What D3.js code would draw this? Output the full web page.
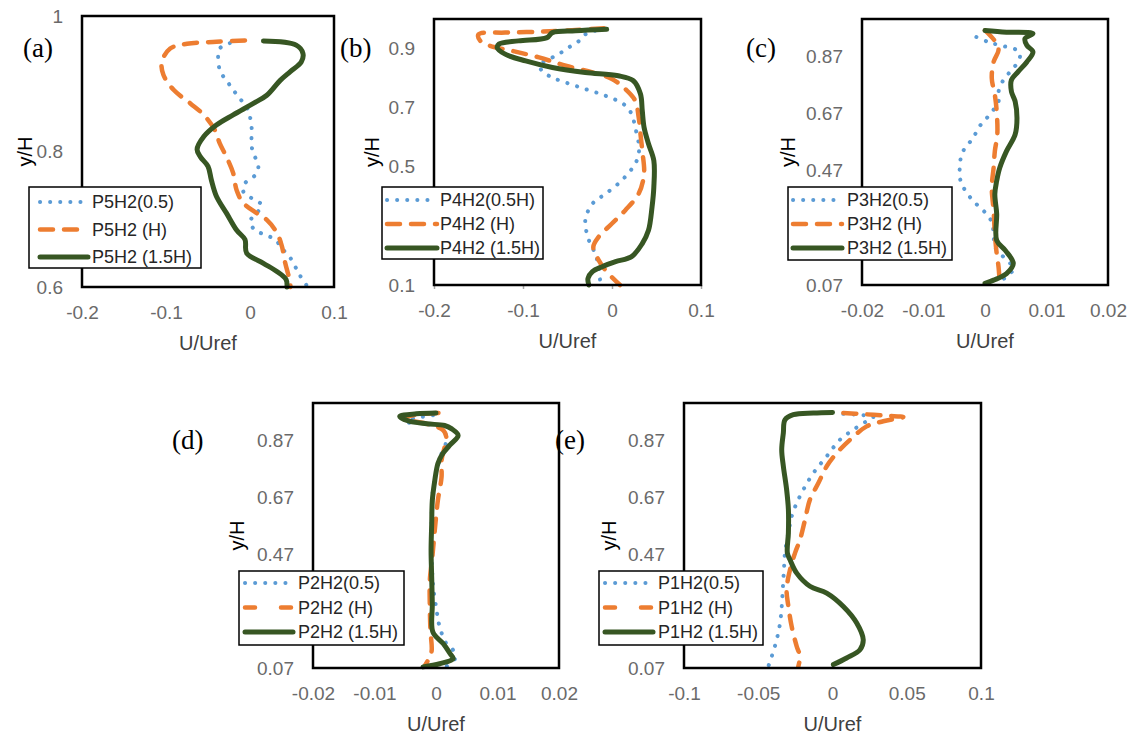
<!DOCTYPE html>
<html>
<head>
<meta charset="utf-8">
<script src="https://cdn.jsdelivr.net/npm/d3@7"></script>
<style>
  body { margin: 0; background: #fff; }
  svg { display: block; }
</style>
</head>
<body>
<svg id="mainsvg" width="1131" height="735"></svg>
<script>
// ---- data: [U/Uref, y/H] ----
const p5Dot = [[-0.024,0.960],[-0.036,0.952],[-0.036,0.920],[-0.028,0.905],[-0.020,0.891],[-0.012,0.878],[-0.004,0.866],[0.000,0.851],[0.002,0.834],[0.002,0.807],[0.006,0.792],[0.010,0.778],[0.006,0.765],[-0.006,0.753],[-0.008,0.741],[0.002,0.731],[0.014,0.721],[0.008,0.709],[0.000,0.697],[0.006,0.684],[0.018,0.677],[0.030,0.670],[0.038,0.657],[0.048,0.643],[0.059,0.618],[0.067,0.603]];
const p5Dash = [[-0.006,0.964],[-0.040,0.962],[-0.075,0.959],[-0.095,0.952],[-0.105,0.932],[-0.103,0.913],[-0.091,0.891],[-0.071,0.871],[-0.055,0.854],[-0.042,0.832],[-0.036,0.812],[-0.028,0.792],[-0.020,0.768],[-0.016,0.743],[-0.008,0.724],[0.008,0.709],[0.020,0.699],[0.032,0.680],[0.038,0.660],[0.042,0.635],[0.048,0.606],[0.048,0.600]];
const p5Solid = [[0.016,0.963],[0.055,0.957],[0.063,0.945],[0.061,0.932],[0.048,0.918],[0.036,0.905],[0.020,0.883],[0.004,0.871],[-0.020,0.854],[-0.040,0.839],[-0.055,0.822],[-0.063,0.803],[-0.059,0.792],[-0.050,0.778],[-0.046,0.758],[-0.040,0.734],[-0.028,0.709],[-0.016,0.684],[-0.006,0.670],[-0.004,0.650],[0.016,0.635],[0.032,0.623],[0.043,0.611],[0.044,0.600]];

const p4Dot = [[-0.019,0.960],[-0.030,0.948],[-0.037,0.926],[-0.049,0.903],[-0.060,0.881],[-0.071,0.864],[-0.081,0.847],[-0.079,0.825],[-0.067,0.802],[-0.052,0.785],[-0.030,0.763],[-0.007,0.740],[0.013,0.712],[0.022,0.679],[0.026,0.634],[0.030,0.578],[0.030,0.544],[0.026,0.510],[0.011,0.454],[-0.007,0.409],[-0.022,0.375],[-0.030,0.319],[-0.026,0.252],[-0.019,0.207],[-0.015,0.162],[-0.013,0.100]];
const p4Dash = [[-0.009,0.969],[-0.045,0.962],[-0.082,0.957],[-0.120,0.954],[-0.150,0.948],[-0.148,0.926],[-0.137,0.909],[-0.112,0.892],[-0.082,0.870],[-0.052,0.842],[-0.022,0.819],[0.000,0.797],[0.015,0.763],[0.026,0.724],[0.030,0.667],[0.032,0.611],[0.034,0.555],[0.036,0.476],[0.030,0.409],[0.015,0.353],[0.000,0.308],[-0.015,0.263],[-0.021,0.229],[-0.015,0.184],[-0.006,0.145],[0.009,0.100]];
const p4Solid = [[-0.006,0.965],[-0.041,0.960],[-0.067,0.954],[-0.073,0.937],[-0.105,0.926],[-0.127,0.915],[-0.129,0.903],[-0.120,0.881],[-0.097,0.858],[-0.067,0.836],[-0.030,0.819],[0.007,0.808],[0.024,0.791],[0.032,0.746],[0.034,0.690],[0.036,0.634],[0.041,0.578],[0.047,0.521],[0.047,0.431],[0.045,0.364],[0.041,0.285],[0.034,0.240],[0.022,0.196],[0.004,0.179],[-0.011,0.162],[-0.022,0.145],[-0.027,0.122],[-0.026,0.100]];

const p3Dot = [[-0.0014,0.937],[0.0005,0.920],[0.0024,0.908],[0.0052,0.891],[0.0057,0.873],[0.0052,0.845],[0.0041,0.816],[0.0030,0.787],[0.0022,0.746],[0.0022,0.712],[0.0003,0.654],[-0.0011,0.619],[-0.0019,0.584],[-0.0030,0.556],[-0.0038,0.527],[-0.0041,0.480],[-0.0041,0.446],[-0.0035,0.411],[-0.0024,0.376],[-0.0014,0.353],[0.0000,0.324],[0.0011,0.290],[0.0014,0.249],[0.0016,0.203],[0.0030,0.168],[0.0046,0.128],[0.0035,0.099],[0.0019,0.076]];
const p3Dash = [[0.0000,0.960],[0.0008,0.943],[0.0019,0.914],[0.0022,0.891],[0.0014,0.850],[0.0011,0.793],[0.0016,0.735],[0.0019,0.677],[0.0020,0.596],[0.0016,0.538],[0.0014,0.480],[0.0011,0.411],[0.0014,0.330],[0.0016,0.249],[0.0019,0.180],[0.0022,0.134],[0.0024,0.076]];
const p3Solid = [[0.0000,0.960],[0.0035,0.954],[0.0078,0.949],[0.0065,0.931],[0.0068,0.908],[0.0078,0.885],[0.0068,0.850],[0.0054,0.816],[0.0043,0.787],[0.0043,0.746],[0.0049,0.712],[0.0052,0.654],[0.0049,0.596],[0.0035,0.538],[0.0024,0.480],[0.0019,0.434],[0.0016,0.388],[0.0019,0.319],[0.0019,0.226],[0.0033,0.191],[0.0046,0.145],[0.0035,0.110],[0.0014,0.087],[0.0000,0.076]];

const p2Dot = [[-0.0005,0.957],[-0.0037,0.945],[-0.0048,0.933],[-0.0015,0.927],[0.0012,0.904],[0.0017,0.869],[0.0009,0.822],[0.0001,0.764],[-0.0005,0.693],[-0.0007,0.600],[-0.0007,0.483],[-0.0005,0.366],[0.0001,0.272],[0.0006,0.214],[0.0017,0.155],[0.0028,0.132],[0.0031,0.103],[0.0017,0.076]];
const p2Dash = [[0.0004,0.965],[-0.0037,0.957],[-0.0053,0.945],[-0.0015,0.927],[0.0012,0.904],[0.0017,0.875],[0.0014,0.845],[0.0009,0.799],[0.0009,0.740],[0.0003,0.658],[-0.0002,0.553],[-0.0006,0.459],[-0.0010,0.378],[-0.0010,0.284],[-0.0009,0.202],[-0.0007,0.132],[-0.0010,0.109],[-0.0018,0.079]];
const p2Solid = [[0.0000,0.965],[-0.0032,0.962],[-0.0059,0.953],[-0.0045,0.937],[-0.0015,0.927],[0.0014,0.921],[0.0025,0.910],[0.0036,0.886],[0.0022,0.851],[0.0009,0.816],[0.0003,0.787],[-0.0002,0.728],[-0.0006,0.658],[-0.0007,0.576],[-0.0008,0.483],[-0.0007,0.389],[-0.0006,0.296],[-0.0005,0.196],[0.0012,0.155],[0.0023,0.120],[0.0028,0.103],[0.0006,0.085],[-0.0021,0.074]];

const p1Dot = [[0.0073,0.962],[0.0163,0.959],[0.0275,0.951],[0.0230,0.936],[0.0140,0.906],[0.0050,0.871],[-0.0039,0.813],[-0.0129,0.754],[-0.0196,0.696],[-0.0241,0.649],[-0.0275,0.602],[-0.0297,0.544],[-0.0320,0.474],[-0.0327,0.415],[-0.0335,0.345],[-0.0342,0.286],[-0.0353,0.228],[-0.0376,0.169],[-0.0409,0.111],[-0.0432,0.076]];
const p1Dash = [[0.0073,0.965],[0.0208,0.961],[0.0365,0.955],[0.0477,0.951],[0.0342,0.936],[0.0230,0.918],[0.0118,0.871],[0.0028,0.824],[-0.0039,0.778],[-0.0095,0.719],[-0.0152,0.661],[-0.0185,0.590],[-0.0219,0.520],[-0.0252,0.474],[-0.0286,0.415],[-0.0309,0.345],[-0.0297,0.286],[-0.0275,0.216],[-0.0241,0.146],[-0.0219,0.111],[-0.0230,0.076]];
const p1Solid = [[0.0000,0.967],[-0.0129,0.965],[-0.0264,0.959],[-0.0320,0.941],[-0.0331,0.895],[-0.0342,0.836],[-0.0331,0.778],[-0.0309,0.696],[-0.0297,0.626],[-0.0297,0.544],[-0.0304,0.474],[-0.0286,0.450],[-0.0241,0.403],[-0.0152,0.357],[-0.0039,0.333],[0.0073,0.286],[0.0163,0.228],[0.0207,0.169],[0.0185,0.134],[0.0095,0.105],[0.0006,0.082]];

// legend labels
const namesA = ['P5H2(0.5)', 'P5H2 (H)', 'P5H2 (1.5H)'];
const namesB = ['P4H2(0.5H)', 'P4H2 (H)', 'P4H2 (1.5H)'];
const namesC = ['P3H2(0.5)', 'P3H2 (H)', 'P3H2 (1.5H)'];
const namesD = ['P2H2(0.5)', 'P2H2 (H)', 'P2H2 (1.5H)'];
const namesE = ['P1H2(0.5)', 'P1H2 (H)', 'P1H2 (1.5H)'];

// tick labels
const xTicksWide = [-0.2, -0.1, 0, 0.1];
const xTicksSmall = [-0.02, -0.01, 0, 0.01, 0.02];
const xTicksE = [-0.1, -0.05, 0, 0.05, 0.1];
const yTicksA = [0.6, 0.8, 1];
const yTicksB = [0.1, 0.3, 0.5, 0.7, 0.9];
const yTicksC = [0.07, 0.27, 0.47, 0.67, 0.87];

// ---- layout ----
const svg = d3.select('#mainsvg');
const sans = 'Liberation Sans, Arial, sans-serif';
const styles = [
  { color: '#5b9bd5', width: 4, dash: '0.1 10', cap: 'round' },
  { color: '#ed7d31', width: 4.5, dash: '13 11', cap: 'round' },
  { color: '#375623', width: 5, dash: null, cap: 'round' }
];

const panels = [
  { tag: '(a)', tagAt: [23, 57], series: [p5Dot, p5Dash, p5Solid], names: namesA,
    xDomain: [-0.2, 0.1], yDomain: [0.6, 1], xTicks: xTicksWide, yTicks: yTicksA,
    box: [82, 16, 334, 287], yTitleX: 25,
    legend: { x: 29, y: 187, w: 172, h: 81, row0: 15, step: 27.5, s0: 11, s1: 59, tx: 63 } },
  { tag: '(b)', tagAt: [340, 57], series: [p4Dot, p4Dash, p4Solid], names: namesB,
    xDomain: [-0.2, 0.1], yDomain: [0.1, 1.0], xTicks: xTicksWide, yTicks: yTicksB,
    box: [434, 19, 701, 285], yTitleX: 372, tickMarks: true,
    legend: { x: 382, y: 187, w: 161, h: 72, row0: 13, step: 24, s0: 5, s1: 55, tx: 58 } },
  { tag: '(c)', tagAt: [746, 57], series: [p3Dot, p3Dash, p3Solid], names: namesC,
    xDomain: [-0.02, 0.02], yDomain: [0.07, 1.0], xTicks: xTicksSmall, yTicks: yTicksC,
    box: [862, 19, 1108, 285], yTitleX: 788,
    legend: { x: 788, y: 187, w: 164, h: 73, row0: 13, step: 24, s0: 5, s1: 54, tx: 59 } },
  { tag: '(d)', tagAt: [172, 449], series: [p2Dot, p2Dash, p2Solid], names: namesD,
    xDomain: [-0.02, 0.02], yDomain: [0.07, 1.0], xTicks: xTicksSmall, yTicks: yTicksC,
    box: [313, 403, 559, 668], yTitleX: 237, legendDash: '10 26',
    legend: { x: 239, y: 571, w: 165, h: 74, row0: 12, step: 24.5, s0: 6, s1: 54, tx: 59 } },
  { tag: '(e)', tagAt: [555, 449], series: [p1Dot, p1Dash, p1Solid], names: namesE,
    xDomain: [-0.1, 0.1], yDomain: [0.07, 1.0], xTicks: xTicksE, yTicks: yTicksC,
    box: [684, 403, 981, 668], yTitleX: 609, legendDash: '10 26',
    legend: { x: 599, y: 571, w: 164, h: 74, row0: 12, step: 24.5, s0: 6, s1: 54, tx: 59 } }
];

panels.forEach(p => {
  const [l, t, r, b] = p.box;
  const L = p.legend;
  const x = d3.scaleLinear().domain(p.xDomain).range([l, r]);
  const y = d3.scaleLinear().domain(p.yDomain).range([b, t]);
  const g = svg.append('g');

  // y labels sitting under the legend box are hidden in the original
  const yShown = p.yTicks.filter(v => !(L.x < l && y(v) > L.y - 4 && y(v) < L.y + L.h + 4));

  // axes (labels only, frame drawn separately)
  const tk = p.tickMarks ? 4 : 0;
  const xAxis = d3.axisBottom(x).tickValues(p.xTicks).tickSize(tk)
    .tickPadding(18.5 - tk).tickFormat(d => String(d));
  const yAxis = d3.axisLeft(y).tickValues(yShown).tickSize(0)
    .tickPadding(19).tickFormat(d => String(d));

  const gx = g.append('g').attr('transform', `translate(0,${b})`).call(xAxis);
  const gy = g.append('g').attr('transform', `translate(${l},0)`).call(yAxis);
  [gx, gy].forEach(ax => {
    ax.select('.domain').remove();
    ax.attr('font-family', sans).attr('font-size', 19);
    ax.selectAll('text').attr('fill', '#6a6a6a');
    ax.selectAll('line').attr('stroke', '#a6a6a6').attr('stroke-width', 1.5);
  });

  // curves
  const line = d3.line()
    .x(d => x(d[0]))
    .y(d => y(d[1]))
    .curve(d3.curveCatmullRom.alpha(0.5));
  p.series.forEach((s, i) => {
    const st = styles[i];
    g.append('path')
      .attr('d', line(s))
      .attr('fill', 'none')
      .attr('stroke', st.color)
      .attr('stroke-width', st.width)
      .attr('stroke-linecap', st.cap)
      .attr('stroke-linejoin', 'round')
      .attr('stroke-dasharray', st.dash);
  });

  // frame
  g.append('rect')
    .attr('x', l).attr('y', t)
    .attr('width', r - l).attr('height', b - t)
    .attr('fill', 'none').attr('stroke', '#000').attr('stroke-width', 2.5);

  // axis titles
  g.append('text')
    .attr('x', (l + r) / 2).attr('y', b + 63)
    .attr('text-anchor', 'middle')
    .attr('font-family', sans).attr('font-size', 20).attr('fill', '#404040')
    .text('U/Uref');
  g.append('text')
    .attr('transform', `translate(${p.yTitleX},${(t + b) / 2}) rotate(-90)`)
    .attr('text-anchor', 'middle').attr('dy', '0.35em')
    .attr('font-family', sans).attr('font-size', 20).attr('fill', '#000')
    .text('y/H');

  // panel tag
  g.append('text')
    .attr('x', p.tagAt[0]).attr('y', p.tagAt[1])
    .attr('font-family', 'Liberation Serif, Times New Roman, serif')
    .attr('font-size', 27).attr('fill', '#000')
    .text(p.tag);

  // legend
  const lg = g.append('g').attr('transform', `translate(${L.x},${L.y})`);
  lg.append('rect')
    .attr('width', L.w).attr('height', L.h)
    .attr('fill', '#fff').attr('stroke', '#000').attr('stroke-width', 1.5);
  p.names.forEach((name, i) => {
    const st = styles[i];
    const ry = L.row0 + i * L.step;
    const dash = (i === 1 && p.legendDash) ? p.legendDash : st.dash;
    lg.append('line')
      .attr('x1', L.s0).attr('x2', L.s1).attr('y1', ry).attr('y2', ry)
      .attr('stroke', st.color).attr('stroke-width', st.width)
      .attr('stroke-linecap', st.cap).attr('stroke-dasharray', dash);
    lg.append('text')
      .attr('x', L.tx).attr('y', ry).attr('dy', '0.35em')
      .attr('font-family', sans).attr('font-size', 18).attr('fill', '#262626')
      .text(name);
  });
});
</script>
</body>
</html>
